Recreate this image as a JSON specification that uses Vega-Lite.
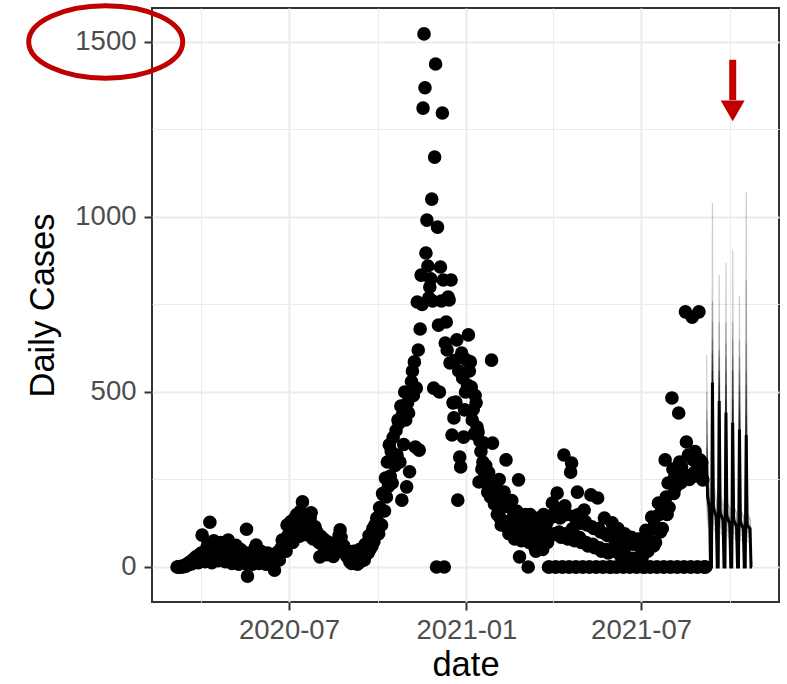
{
"$schema":"https://vega.github.io/schema/vega-lite/v6.json",
"width":627,"height":594,
"autosize":{"type":"none"},
"padding":{"left":152,"top":8,"right":8,"bottom":82},
"background":"white",
"config":{"font":"Liberation Sans","view":{"stroke":"#333333","strokeWidth":2}},
"datasets":{
"obs":[
{"d":"2020-03-07","y":0},{"d":"2020-03-08","y":0},{"d":"2020-03-09","y":0},{"d":"2020-03-10","y":1},{"d":"2020-03-11","y":0},{"d":"2020-03-12","y":2},{"d":"2020-03-13","y":0},{"d":"2020-03-14","y":3},{"d":"2020-03-15","y":5},{"d":"2020-03-16","y":2},{"d":"2020-03-17","y":8},{"d":"2020-03-18","y":6},{"d":"2020-03-19","y":12},{"d":"2020-03-20","y":10},{"d":"2020-03-21","y":15},{"d":"2020-03-22","y":9},{"d":"2020-03-23","y":20},{"d":"2020-03-24","y":14},{"d":"2020-03-25","y":25},{"d":"2020-03-26","y":18},{"d":"2020-03-27","y":30},{"d":"2020-03-28","y":22},{"d":"2020-03-29","y":12},{"d":"2020-03-30","y":35},{"d":"2020-03-31","y":28},
{"d":"2020-04-01","y":40},{"d":"2020-04-02","y":91},{"d":"2020-04-03","y":35},{"d":"2020-04-04","y":20},{"d":"2020-04-05","y":15},{"d":"2020-04-06","y":48},{"d":"2020-04-07","y":57},{"d":"2020-04-08","y":66},{"d":"2020-04-09","y":45},{"d":"2020-04-10","y":128},{"d":"2020-04-11","y":30},{"d":"2020-04-12","y":12},{"d":"2020-04-13","y":25},{"d":"2020-04-14","y":75},{"d":"2020-04-15","y":60},{"d":"2020-04-16","y":52},{"d":"2020-04-17","y":40},{"d":"2020-04-18","y":22},{"d":"2020-04-19","y":18},{"d":"2020-04-20","y":45},{"d":"2020-04-21","y":70},{"d":"2020-04-22","y":55},{"d":"2020-04-23","y":48},{"d":"2020-04-24","y":38},{"d":"2020-04-25","y":20},{"d":"2020-04-26","y":15},{"d":"2020-04-27","y":42},{"d":"2020-04-28","y":60},{"d":"2020-04-29","y":77},{"d":"2020-04-30","y":50},
{"d":"2020-05-01","y":35},{"d":"2020-05-02","y":20},{"d":"2020-05-03","y":10},{"d":"2020-05-04","y":45},{"d":"2020-05-05","y":55},{"d":"2020-05-06","y":40},{"d":"2020-05-07","y":62},{"d":"2020-05-08","y":30},{"d":"2020-05-09","y":18},{"d":"2020-05-10","y":8},{"d":"2020-05-11","y":38},{"d":"2020-05-12","y":50},{"d":"2020-05-13","y":45},{"d":"2020-05-14","y":33},{"d":"2020-05-15","y":28},{"d":"2020-05-16","y":15},{"d":"2020-05-17","y":10},{"d":"2020-05-18","y":108},{"d":"2020-05-19","y":-26},{"d":"2020-05-20","y":40},{"d":"2020-05-21","y":35},{"d":"2020-05-22","y":30},{"d":"2020-05-23","y":12},{"d":"2020-05-24","y":8},{"d":"2020-05-25","y":20},{"d":"2020-05-26","y":42},{"d":"2020-05-27","y":55},{"d":"2020-05-28","y":63},{"d":"2020-05-29","y":35},{"d":"2020-05-30","y":18},{"d":"2020-05-31","y":10},
{"d":"2020-06-01","y":30},{"d":"2020-06-02","y":45},{"d":"2020-06-03","y":38},{"d":"2020-06-04","y":25},{"d":"2020-06-05","y":20},{"d":"2020-06-06","y":12},{"d":"2020-06-07","y":8},{"d":"2020-06-08","y":35},{"d":"2020-06-09","y":40},{"d":"2020-06-10","y":28},{"d":"2020-06-11","y":22},{"d":"2020-06-12","y":30},{"d":"2020-06-13","y":15},{"d":"2020-06-14","y":5},{"d":"2020-06-15","y":18},{"d":"2020-06-16","y":-9},{"d":"2020-06-17","y":25},{"d":"2020-06-18","y":35},{"d":"2020-06-19","y":42},{"d":"2020-06-20","y":30},{"d":"2020-06-21","y":20},{"d":"2020-06-22","y":48},{"d":"2020-06-23","y":55},{"d":"2020-06-24","y":77},{"d":"2020-06-25","y":60},{"d":"2020-06-26","y":66},{"d":"2020-06-27","y":50},{"d":"2020-06-28","y":45},{"d":"2020-06-29","y":120},{"d":"2020-06-30","y":90},
{"d":"2020-07-01","y":95},{"d":"2020-07-02","y":110},{"d":"2020-07-03","y":130},{"d":"2020-07-04","y":85},{"d":"2020-07-05","y":70},{"d":"2020-07-06","y":120},{"d":"2020-07-07","y":140},{"d":"2020-07-08","y":105},{"d":"2020-07-09","y":150},{"d":"2020-07-10","y":125},{"d":"2020-07-11","y":98},{"d":"2020-07-12","y":88},{"d":"2020-07-13","y":160},{"d":"2020-07-14","y":145},{"d":"2020-07-15","y":186},{"d":"2020-07-16","y":130},{"d":"2020-07-17","y":118},{"d":"2020-07-18","y":100},{"d":"2020-07-19","y":92},{"d":"2020-07-20","y":135},{"d":"2020-07-21","y":128},{"d":"2020-07-22","y":112},{"d":"2020-07-23","y":140},{"d":"2020-07-24","y":155},{"d":"2020-07-25","y":95},{"d":"2020-07-26","y":80},{"d":"2020-07-27","y":108},{"d":"2020-07-28","y":115},{"d":"2020-07-29","y":90},{"d":"2020-07-30","y":100},{"d":"2020-07-31","y":85},
{"d":"2020-08-01","y":70},{"d":"2020-08-02","y":29},{"d":"2020-08-03","y":88},{"d":"2020-08-04","y":75},{"d":"2020-08-05","y":62},{"d":"2020-08-06","y":80},{"d":"2020-08-07","y":55},{"d":"2020-08-08","y":48},{"d":"2020-08-09","y":35},{"d":"2020-08-10","y":72},{"d":"2020-08-11","y":66},{"d":"2020-08-12","y":58},{"d":"2020-08-13","y":50},{"d":"2020-08-14","y":44},{"d":"2020-08-15","y":40},{"d":"2020-08-16","y":30},{"d":"2020-08-17","y":60},{"d":"2020-08-18","y":52},{"d":"2020-08-19","y":48},{"d":"2020-08-20","y":70},{"d":"2020-08-21","y":78},{"d":"2020-08-22","y":90},{"d":"2020-08-23","y":106},{"d":"2020-08-24","y":85},{"d":"2020-08-25","y":65},{"d":"2020-08-26","y":55},{"d":"2020-08-27","y":60},{"d":"2020-08-28","y":42},{"d":"2020-08-29","y":38},{"d":"2020-08-30","y":30},{"d":"2020-08-31","y":45},
{"d":"2020-09-01","y":35},{"d":"2020-09-02","y":15},{"d":"2020-09-03","y":40},{"d":"2020-09-04","y":10},{"d":"2020-09-05","y":25},{"d":"2020-09-06","y":45},{"d":"2020-09-07","y":12},{"d":"2020-09-08","y":40},{"d":"2020-09-09","y":22},{"d":"2020-09-10","y":8},{"d":"2020-09-11","y":35},{"d":"2020-09-12","y":50},{"d":"2020-09-13","y":15},{"d":"2020-09-14","y":45},{"d":"2020-09-15","y":25},{"d":"2020-09-16","y":49},{"d":"2020-09-17","y":20},{"d":"2020-09-18","y":65},{"d":"2020-09-19","y":35},{"d":"2020-09-20","y":60},{"d":"2020-09-21","y":40},{"d":"2020-09-22","y":90},{"d":"2020-09-23","y":50},{"d":"2020-09-24","y":77},{"d":"2020-09-25","y":60},{"d":"2020-09-26","y":110},{"d":"2020-09-27","y":72},{"d":"2020-09-28","y":120},{"d":"2020-09-29","y":90},{"d":"2020-09-30","y":140},
{"d":"2020-10-01","y":126},{"d":"2020-10-02","y":95},{"d":"2020-10-03","y":170},{"d":"2020-10-04","y":163},{"d":"2020-10-05","y":120},{"d":"2020-10-06","y":210},{"d":"2020-10-07","y":206},{"d":"2020-10-08","y":160},{"d":"2020-10-09","y":254},{"d":"2020-10-10","y":200},{"d":"2020-10-11","y":300},{"d":"2020-10-12","y":230},{"d":"2020-10-13","y":349},{"d":"2020-10-14","y":260},{"d":"2020-10-15","y":330},{"d":"2020-10-16","y":240},{"d":"2020-10-17","y":370},{"d":"2020-10-18","y":300},{"d":"2020-10-19","y":290},{"d":"2020-10-20","y":390},{"d":"2020-10-21","y":320},{"d":"2020-10-22","y":420},{"d":"2020-10-23","y":411},{"d":"2020-10-24","y":300},{"d":"2020-10-25","y":460},{"d":"2020-10-26","y":191},{"d":"2020-10-27","y":440},{"d":"2020-10-28","y":350},{"d":"2020-10-29","y":500},{"d":"2020-10-30","y":420},{"d":"2020-10-31","y":229},
{"d":"2020-11-01","y":469},{"d":"2020-11-02","y":440},{"d":"2020-11-03","y":272},{"d":"2020-11-04","y":500},{"d":"2020-11-05","y":530},{"d":"2020-11-06","y":560},{"d":"2020-11-07","y":490},{"d":"2020-11-08","y":586},{"d":"2020-11-09","y":343},{"d":"2020-11-10","y":511},{"d":"2020-11-11","y":757},{"d":"2020-11-12","y":620},{"d":"2020-11-13","y":334},{"d":"2020-11-14","y":680},{"d":"2020-11-15","y":834},{"d":"2020-11-16","y":750},{"d":"2020-11-17","y":1311},{"d":"2020-11-18","y":1523},{"d":"2020-11-19","y":1369},{"d":"2020-11-20","y":897},{"d":"2020-11-21","y":991},{"d":"2020-11-22","y":860},{"d":"2020-11-23","y":769},{"d":"2020-11-24","y":800},{"d":"2020-11-25","y":823},{"d":"2020-11-26","y":1051},{"d":"2020-11-27","y":760},{"d":"2020-11-28","y":511},{"d":"2020-11-29","y":1171},{"d":"2020-11-30","y":1437},
{"d":"2020-12-01","y":0},{"d":"2020-12-02","y":971},{"d":"2020-12-03","y":691},{"d":"2020-12-04","y":500},{"d":"2020-12-05","y":857},{"d":"2020-12-06","y":760},{"d":"2020-12-07","y":1297},{"d":"2020-12-08","y":820},{"d":"2020-12-09","y":0},{"d":"2020-12-10","y":640},{"d":"2020-12-11","y":700},{"d":"2020-12-12","y":620},{"d":"2020-12-13","y":771},{"d":"2020-12-14","y":763},{"d":"2020-12-15","y":583},{"d":"2020-12-16","y":820},{"d":"2020-12-17","y":377},{"d":"2020-12-18","y":469},{"d":"2020-12-19","y":426},{"d":"2020-12-20","y":590},{"d":"2020-12-21","y":471},{"d":"2020-12-22","y":649},{"d":"2020-12-23","y":191},{"d":"2020-12-24","y":560},{"d":"2020-12-25","y":314},{"d":"2020-12-26","y":286},{"d":"2020-12-27","y":611},{"d":"2020-12-28","y":540},{"d":"2020-12-29","y":371},{"d":"2020-12-30","y":449},{"d":"2020-12-31","y":500},
{"d":"2021-01-01","y":591},{"d":"2021-01-02","y":520},{"d":"2021-01-03","y":663},{"d":"2021-01-04","y":560},{"d":"2021-01-05","y":586},{"d":"2021-01-06","y":514},{"d":"2021-01-07","y":420},{"d":"2021-01-08","y":450},{"d":"2021-01-09","y":380},{"d":"2021-01-10","y":490},{"d":"2021-01-11","y":469},{"d":"2021-01-12","y":400},{"d":"2021-01-13","y":386},{"d":"2021-01-14","y":243},{"d":"2021-01-15","y":360},{"d":"2021-01-16","y":330},{"d":"2021-01-17","y":280},{"d":"2021-01-18","y":300},{"d":"2021-01-19","y":354},{"d":"2021-01-20","y":260},{"d":"2021-01-21","y":290},{"d":"2021-01-22","y":240},{"d":"2021-01-23","y":214},{"d":"2021-01-24","y":270},{"d":"2021-01-25","y":230},{"d":"2021-01-26","y":200},{"d":"2021-01-27","y":591},{"d":"2021-01-28","y":354},{"d":"2021-01-29","y":210},{"d":"2021-01-30","y":180},{"d":"2021-01-31","y":230},
{"d":"2021-02-01","y":240},{"d":"2021-02-02","y":150},{"d":"2021-02-03","y":190},{"d":"2021-02-04","y":250},{"d":"2021-02-05","y":140},{"d":"2021-02-06","y":120},{"d":"2021-02-07","y":170},{"d":"2021-02-08","y":200},{"d":"2021-02-09","y":214},{"d":"2021-02-10","y":130},{"d":"2021-02-11","y":306},{"d":"2021-02-12","y":180},{"d":"2021-02-13","y":110},{"d":"2021-02-14","y":95},{"d":"2021-02-15","y":170},{"d":"2021-02-16","y":120},{"d":"2021-02-17","y":190},{"d":"2021-02-18","y":140},{"d":"2021-02-19","y":100},{"d":"2021-02-20","y":80},{"d":"2021-02-21","y":120},{"d":"2021-02-22","y":160},{"d":"2021-02-23","y":105},{"d":"2021-02-24","y":249},{"d":"2021-02-25","y":29},{"d":"2021-02-26","y":130},{"d":"2021-02-27","y":75},{"d":"2021-02-28","y":100},
{"d":"2021-03-01","y":140},{"d":"2021-03-02","y":90},{"d":"2021-03-03","y":150},{"d":"2021-03-04","y":80},{"d":"2021-03-05","y":120},{"d":"2021-03-06","y":0},{"d":"2021-03-07","y":70},{"d":"2021-03-08","y":150},{"d":"2021-03-09","y":95},{"d":"2021-03-10","y":110},{"d":"2021-03-11","y":135},{"d":"2021-03-12","y":65},{"d":"2021-03-13","y":55},{"d":"2021-03-14","y":45},{"d":"2021-03-15","y":130},{"d":"2021-03-16","y":80},{"d":"2021-03-17","y":140},{"d":"2021-03-18","y":70},{"d":"2021-03-19","y":115},{"d":"2021-03-20","y":60},{"d":"2021-03-21","y":50},{"d":"2021-03-22","y":150},{"d":"2021-03-23","y":85},{"d":"2021-03-24","y":105},{"d":"2021-03-25","y":125},{"d":"2021-03-26","y":70},{"d":"2021-03-27","y":0},{"d":"2021-03-28","y":0},{"d":"2021-03-29","y":140},{"d":"2021-03-30","y":90},{"d":"2021-03-31","y":183},
{"d":"2021-04-01","y":150},{"d":"2021-04-02","y":95},{"d":"2021-04-03","y":0},{"d":"2021-04-04","y":0},{"d":"2021-04-05","y":211},{"d":"2021-04-06","y":165},{"d":"2021-04-07","y":100},{"d":"2021-04-08","y":140},{"d":"2021-04-09","y":85},{"d":"2021-04-10","y":0},{"d":"2021-04-11","y":0},{"d":"2021-04-12","y":320},{"d":"2021-04-13","y":175},{"d":"2021-04-14","y":95},{"d":"2021-04-15","y":150},{"d":"2021-04-16","y":80},{"d":"2021-04-17","y":0},{"d":"2021-04-18","y":0},{"d":"2021-04-19","y":271},{"d":"2021-04-20","y":297},{"d":"2021-04-21","y":110},{"d":"2021-04-22","y":145},{"d":"2021-04-23","y":75},{"d":"2021-04-24","y":0},{"d":"2021-04-25","y":0},{"d":"2021-04-26","y":214},{"d":"2021-04-27","y":150},{"d":"2021-04-28","y":85},{"d":"2021-04-29","y":125},{"d":"2021-04-30","y":70},
{"d":"2021-05-01","y":0},{"d":"2021-05-02","y":0},{"d":"2021-05-03","y":163},{"d":"2021-05-04","y":130},{"d":"2021-05-05","y":70},{"d":"2021-05-06","y":120},{"d":"2021-05-07","y":60},{"d":"2021-05-08","y":0},{"d":"2021-05-09","y":0},{"d":"2021-05-10","y":206},{"d":"2021-05-11","y":115},{"d":"2021-05-12","y":65},{"d":"2021-05-13","y":110},{"d":"2021-05-14","y":55},{"d":"2021-05-15","y":0},{"d":"2021-05-16","y":0},{"d":"2021-05-17","y":197},{"d":"2021-05-18","y":110},{"d":"2021-05-19","y":55},{"d":"2021-05-20","y":100},{"d":"2021-05-21","y":45},{"d":"2021-05-22","y":0},{"d":"2021-05-23","y":0},{"d":"2021-05-24","y":140},{"d":"2021-05-25","y":95},{"d":"2021-05-26","y":50},{"d":"2021-05-27","y":90},{"d":"2021-05-28","y":40},{"d":"2021-05-29","y":0},{"d":"2021-05-30","y":0},{"d":"2021-05-31","y":0},
{"d":"2021-06-01","y":126},{"d":"2021-06-02","y":90},{"d":"2021-06-03","y":45},{"d":"2021-06-04","y":75},{"d":"2021-06-05","y":0},{"d":"2021-06-06","y":0},{"d":"2021-06-07","y":110},{"d":"2021-06-08","y":85},{"d":"2021-06-09","y":35},{"d":"2021-06-10","y":70},{"d":"2021-06-11","y":30},{"d":"2021-06-12","y":0},{"d":"2021-06-13","y":0},{"d":"2021-06-14","y":95},{"d":"2021-06-15","y":70},{"d":"2021-06-16","y":30},{"d":"2021-06-17","y":65},{"d":"2021-06-18","y":25},{"d":"2021-06-19","y":0},{"d":"2021-06-20","y":0},{"d":"2021-06-21","y":85},{"d":"2021-06-22","y":65},{"d":"2021-06-23","y":25},{"d":"2021-06-24","y":70},{"d":"2021-06-25","y":20},{"d":"2021-06-26","y":0},{"d":"2021-06-27","y":0},{"d":"2021-06-28","y":80},{"d":"2021-06-29","y":60},{"d":"2021-06-30","y":30},
{"d":"2021-07-01","y":75},{"d":"2021-07-02","y":25},{"d":"2021-07-03","y":0},{"d":"2021-07-04","y":0},{"d":"2021-07-05","y":0},{"d":"2021-07-06","y":105},{"d":"2021-07-07","y":90},{"d":"2021-07-08","y":45},{"d":"2021-07-09","y":80},{"d":"2021-07-10","y":0},{"d":"2021-07-11","y":0},{"d":"2021-07-12","y":143},{"d":"2021-07-13","y":110},{"d":"2021-07-14","y":60},{"d":"2021-07-15","y":120},{"d":"2021-07-16","y":70},{"d":"2021-07-17","y":0},{"d":"2021-07-18","y":0},{"d":"2021-07-19","y":183},{"d":"2021-07-20","y":150},{"d":"2021-07-21","y":100},{"d":"2021-07-22","y":175},{"d":"2021-07-23","y":110},{"d":"2021-07-24","y":0},{"d":"2021-07-25","y":0},{"d":"2021-07-26","y":306},{"d":"2021-07-27","y":200},{"d":"2021-07-28","y":150},{"d":"2021-07-29","y":240},{"d":"2021-07-30","y":170},{"d":"2021-07-31","y":0},
{"d":"2021-08-01","y":0},{"d":"2021-08-02","y":483},{"d":"2021-08-03","y":280},{"d":"2021-08-04","y":210},{"d":"2021-08-05","y":260},{"d":"2021-08-06","y":229},{"d":"2021-08-07","y":0},{"d":"2021-08-08","y":0},{"d":"2021-08-09","y":440},{"d":"2021-08-10","y":300},{"d":"2021-08-11","y":240},{"d":"2021-08-12","y":286},{"d":"2021-08-13","y":250},{"d":"2021-08-14","y":0},{"d":"2021-08-15","y":0},{"d":"2021-08-16","y":729},{"d":"2021-08-17","y":357},{"d":"2021-08-18","y":260},{"d":"2021-08-19","y":320},{"d":"2021-08-20","y":250},{"d":"2021-08-21","y":0},{"d":"2021-08-22","y":0},{"d":"2021-08-23","y":714},{"d":"2021-08-24","y":306},{"d":"2021-08-25","y":270},{"d":"2021-08-26","y":330},{"d":"2021-08-27","y":260},{"d":"2021-08-28","y":0},{"d":"2021-08-29","y":0},{"d":"2021-08-30","y":729},{"d":"2021-08-31","y":306},
{"d":"2021-09-01","y":275},{"d":"2021-09-02","y":300},{"d":"2021-09-03","y":249},{"d":"2021-09-04","y":0},{"d":"2021-09-05","y":0},{"d":"2021-09-06","y":0}
],
"fc":[
{"d":"2021-09-07","k":"m","y":300},{"d":"2021-09-08","k":"m","y":200},{"d":"2021-09-09","k":"m","y":185},{"d":"2021-09-10","k":"m","y":172},{"d":"2021-09-11","k":"m","y":0},{"d":"2021-09-12","k":"m","y":0},{"d":"2021-09-13","k":"m","y":527},{"d":"2021-09-14","k":"m","y":170},{"d":"2021-09-15","k":"m","y":160},{"d":"2021-09-16","k":"m","y":152},{"d":"2021-09-17","k":"m","y":145},{"d":"2021-09-18","k":"m","y":0},{"d":"2021-09-19","k":"m","y":0},{"d":"2021-09-20","k":"m","y":474},{"d":"2021-09-21","k":"m","y":155},{"d":"2021-09-22","k":"m","y":148},{"d":"2021-09-23","k":"m","y":140},{"d":"2021-09-24","k":"m","y":135},{"d":"2021-09-25","k":"m","y":0},{"d":"2021-09-26","k":"m","y":0},{"d":"2021-09-27","k":"m","y":441},{"d":"2021-09-28","k":"m","y":145},{"d":"2021-09-29","k":"m","y":138},{"d":"2021-09-30","k":"m","y":130},{"d":"2021-10-01","k":"m","y":125},{"d":"2021-10-02","k":"m","y":0},{"d":"2021-10-03","k":"m","y":0},{"d":"2021-10-04","k":"m","y":412},{"d":"2021-10-05","k":"m","y":135},{"d":"2021-10-06","k":"m","y":128},{"d":"2021-10-07","k":"m","y":122},{"d":"2021-10-08","k":"m","y":118},{"d":"2021-10-09","k":"m","y":0},{"d":"2021-10-10","k":"m","y":0},{"d":"2021-10-11","k":"m","y":393},{"d":"2021-10-12","k":"m","y":128},{"d":"2021-10-13","k":"m","y":122},{"d":"2021-10-14","k":"m","y":116},{"d":"2021-10-15","k":"m","y":112},{"d":"2021-10-16","k":"m","y":0},{"d":"2021-10-17","k":"m","y":0},{"d":"2021-10-18","k":"m","y":377},{"d":"2021-10-19","k":"m","y":120},{"d":"2021-10-20","k":"m","y":116},{"d":"2021-10-21","k":"m","y":112},{"d":"2021-10-22","k":"m","y":110},{"d":"2021-10-23","k":"m","y":0},{"d":"2021-10-24","k":"m","y":0},
{"d":"2021-09-07","k":"a","y":420},{"d":"2021-09-08","k":"a","y":215},{"d":"2021-09-09","k":"a","y":205},{"d":"2021-09-10","k":"a","y":195},{"d":"2021-09-11","k":"a","y":0},{"d":"2021-09-12","k":"a","y":0},{"d":"2021-09-13","k":"a","y":1040},{"d":"2021-09-14","k":"a","y":190},{"d":"2021-09-15","k":"a","y":180},{"d":"2021-09-16","k":"a","y":172},{"d":"2021-09-17","k":"a","y":165},{"d":"2021-09-18","k":"a","y":0},{"d":"2021-09-19","k":"a","y":0},{"d":"2021-09-20","k":"a","y":560},{"d":"2021-09-21","k":"a","y":175},{"d":"2021-09-22","k":"a","y":168},{"d":"2021-09-23","k":"a","y":160},{"d":"2021-09-24","k":"a","y":155},{"d":"2021-09-25","k":"a","y":0},{"d":"2021-09-26","k":"a","y":0},{"d":"2021-09-27","k":"a","y":520},{"d":"2021-09-28","k":"a","y":160},{"d":"2021-09-29","k":"a","y":152},{"d":"2021-09-30","k":"a","y":148},{"d":"2021-10-01","k":"a","y":140},{"d":"2021-10-02","k":"a","y":0},{"d":"2021-10-03","k":"a","y":0},{"d":"2021-10-04","k":"a","y":480},{"d":"2021-10-05","k":"a","y":150},{"d":"2021-10-06","k":"a","y":142},{"d":"2021-10-07","k":"a","y":138},{"d":"2021-10-08","k":"a","y":132},{"d":"2021-10-09","k":"a","y":0},{"d":"2021-10-10","k":"a","y":0},{"d":"2021-10-11","k":"a","y":450},{"d":"2021-10-12","k":"a","y":140},{"d":"2021-10-13","k":"a","y":135},{"d":"2021-10-14","k":"a","y":128},{"d":"2021-10-15","k":"a","y":124},{"d":"2021-10-16","k":"a","y":0},{"d":"2021-10-17","k":"a","y":0},{"d":"2021-10-18","k":"a","y":430},{"d":"2021-10-19","k":"a","y":130},{"d":"2021-10-20","k":"a","y":126},{"d":"2021-10-21","k":"a","y":120},{"d":"2021-10-22","k":"a","y":118},{"d":"2021-10-23","k":"a","y":0},{"d":"2021-10-24","k":"a","y":0},
{"d":"2021-09-07","k":"b","y":606},{"d":"2021-09-08","k":"b","y":240},{"d":"2021-09-09","k":"b","y":228},{"d":"2021-09-10","k":"b","y":220},{"d":"2021-09-11","k":"b","y":0},{"d":"2021-09-12","k":"b","y":0},{"d":"2021-09-13","k":"b","y":610},{"d":"2021-09-14","k":"b","y":215},{"d":"2021-09-15","k":"b","y":205},{"d":"2021-09-16","k":"b","y":198},{"d":"2021-09-17","k":"b","y":190},{"d":"2021-09-18","k":"b","y":0},{"d":"2021-09-19","k":"b","y":0},{"d":"2021-09-20","k":"b","y":834},{"d":"2021-09-21","k":"b","y":200},{"d":"2021-09-22","k":"b","y":190},{"d":"2021-09-23","k":"b","y":182},{"d":"2021-09-24","k":"b","y":175},{"d":"2021-09-25","k":"b","y":0},{"d":"2021-09-26","k":"b","y":0},{"d":"2021-09-27","k":"b","y":600},{"d":"2021-09-28","k":"b","y":185},{"d":"2021-09-29","k":"b","y":178},{"d":"2021-09-30","k":"b","y":170},{"d":"2021-10-01","k":"b","y":165},{"d":"2021-10-02","k":"b","y":0},{"d":"2021-10-03","k":"b","y":0},{"d":"2021-10-04","k":"b","y":560},{"d":"2021-10-05","k":"b","y":172},{"d":"2021-10-06","k":"b","y":165},{"d":"2021-10-07","k":"b","y":160},{"d":"2021-10-08","k":"b","y":152},{"d":"2021-10-09","k":"b","y":0},{"d":"2021-10-10","k":"b","y":0},{"d":"2021-10-11","k":"b","y":500},{"d":"2021-10-12","k":"b","y":160},{"d":"2021-10-13","k":"b","y":155},{"d":"2021-10-14","k":"b","y":150},{"d":"2021-10-15","k":"b","y":145},{"d":"2021-10-16","k":"b","y":0},{"d":"2021-10-17","k":"b","y":0},{"d":"2021-10-18","k":"b","y":480},{"d":"2021-10-19","k":"b","y":150},{"d":"2021-10-20","k":"b","y":145},{"d":"2021-10-21","k":"b","y":140},{"d":"2021-10-22","k":"b","y":135},{"d":"2021-10-23","k":"b","y":0},{"d":"2021-10-24","k":"b","y":0},
{"d":"2021-09-07","k":"c","y":250},{"d":"2021-09-08","k":"c","y":160},{"d":"2021-09-09","k":"c","y":152},{"d":"2021-09-10","k":"c","y":145},{"d":"2021-09-11","k":"c","y":0},{"d":"2021-09-12","k":"c","y":0},{"d":"2021-09-13","k":"c","y":700},{"d":"2021-09-14","k":"c","y":150},{"d":"2021-09-15","k":"c","y":142},{"d":"2021-09-16","k":"c","y":136},{"d":"2021-09-17","k":"c","y":130},{"d":"2021-09-18","k":"c","y":0},{"d":"2021-09-19","k":"c","y":0},{"d":"2021-09-20","k":"c","y":620},{"d":"2021-09-21","k":"c","y":138},{"d":"2021-09-22","k":"c","y":130},{"d":"2021-09-23","k":"c","y":125},{"d":"2021-09-24","k":"c","y":120},{"d":"2021-09-25","k":"c","y":0},{"d":"2021-09-26","k":"c","y":0},{"d":"2021-09-27","k":"c","y":869},{"d":"2021-09-28","k":"c","y":128},{"d":"2021-09-29","k":"c","y":122},{"d":"2021-09-30","k":"c","y":118},{"d":"2021-10-01","k":"c","y":112},{"d":"2021-10-02","k":"c","y":0},{"d":"2021-10-03","k":"c","y":0},{"d":"2021-10-04","k":"c","y":650},{"d":"2021-10-05","k":"c","y":120},{"d":"2021-10-06","k":"c","y":115},{"d":"2021-10-07","k":"c","y":110},{"d":"2021-10-08","k":"c","y":106},{"d":"2021-10-09","k":"c","y":0},{"d":"2021-10-10","k":"c","y":0},{"d":"2021-10-11","k":"c","y":560},{"d":"2021-10-12","k":"c","y":112},{"d":"2021-10-13","k":"c","y":108},{"d":"2021-10-14","k":"c","y":104},{"d":"2021-10-15","k":"c","y":100},{"d":"2021-10-16","k":"c","y":0},{"d":"2021-10-17","k":"c","y":0},{"d":"2021-10-18","k":"c","y":520},{"d":"2021-10-19","k":"c","y":105},{"d":"2021-10-20","k":"c","y":102},{"d":"2021-10-21","k":"c","y":98},{"d":"2021-10-22","k":"c","y":95},{"d":"2021-10-23","k":"c","y":0},{"d":"2021-10-24","k":"c","y":0},
{"d":"2021-09-07","k":"d","y":380},{"d":"2021-09-08","k":"d","y":198},{"d":"2021-09-09","k":"d","y":188},{"d":"2021-09-10","k":"d","y":180},{"d":"2021-09-11","k":"d","y":0},{"d":"2021-09-12","k":"d","y":0},{"d":"2021-09-13","k":"d","y":580},{"d":"2021-09-14","k":"d","y":175},{"d":"2021-09-15","k":"d","y":168},{"d":"2021-09-16","k":"d","y":160},{"d":"2021-09-17","k":"d","y":155},{"d":"2021-09-18","k":"d","y":0},{"d":"2021-09-19","k":"d","y":0},{"d":"2021-09-20","k":"d","y":700},{"d":"2021-09-21","k":"d","y":165},{"d":"2021-09-22","k":"d","y":158},{"d":"2021-09-23","k":"d","y":150},{"d":"2021-09-24","k":"d","y":145},{"d":"2021-09-25","k":"d","y":0},{"d":"2021-09-26","k":"d","y":0},{"d":"2021-09-27","k":"d","y":640},{"d":"2021-09-28","k":"d","y":150},{"d":"2021-09-29","k":"d","y":145},{"d":"2021-09-30","k":"d","y":140},{"d":"2021-10-01","k":"d","y":135},{"d":"2021-10-02","k":"d","y":0},{"d":"2021-10-03","k":"d","y":0},{"d":"2021-10-04","k":"d","y":906},{"d":"2021-10-05","k":"d","y":142},{"d":"2021-10-06","k":"d","y":136},{"d":"2021-10-07","k":"d","y":130},{"d":"2021-10-08","k":"d","y":126},{"d":"2021-10-09","k":"d","y":0},{"d":"2021-10-10","k":"d","y":0},{"d":"2021-10-11","k":"d","y":600},{"d":"2021-10-12","k":"d","y":132},{"d":"2021-10-13","k":"d","y":128},{"d":"2021-10-14","k":"d","y":122},{"d":"2021-10-15","k":"d","y":118},{"d":"2021-10-16","k":"d","y":0},{"d":"2021-10-17","k":"d","y":0},{"d":"2021-10-18","k":"d","y":560},{"d":"2021-10-19","k":"d","y":125},{"d":"2021-10-20","k":"d","y":120},{"d":"2021-10-21","k":"d","y":116},{"d":"2021-10-22","k":"d","y":112},{"d":"2021-10-23","k":"d","y":0},{"d":"2021-10-24","k":"d","y":0},
{"d":"2021-09-07","k":"e","y":340},{"d":"2021-09-08","k":"e","y":180},{"d":"2021-09-09","k":"e","y":170},{"d":"2021-09-10","k":"e","y":162},{"d":"2021-09-11","k":"e","y":0},{"d":"2021-09-12","k":"e","y":0},{"d":"2021-09-13","k":"e","y":650},{"d":"2021-09-14","k":"e","y":165},{"d":"2021-09-15","k":"e","y":158},{"d":"2021-09-16","k":"e","y":150},{"d":"2021-09-17","k":"e","y":145},{"d":"2021-09-18","k":"e","y":0},{"d":"2021-09-19","k":"e","y":0},{"d":"2021-09-20","k":"e","y":540},{"d":"2021-09-21","k":"e","y":150},{"d":"2021-09-22","k":"e","y":144},{"d":"2021-09-23","k":"e","y":138},{"d":"2021-09-24","k":"e","y":132},{"d":"2021-09-25","k":"e","y":0},{"d":"2021-09-26","k":"e","y":0},{"d":"2021-09-27","k":"e","y":560},{"d":"2021-09-28","k":"e","y":140},{"d":"2021-09-29","k":"e","y":134},{"d":"2021-09-30","k":"e","y":128},{"d":"2021-10-01","k":"e","y":124},{"d":"2021-10-02","k":"e","y":0},{"d":"2021-10-03","k":"e","y":0},{"d":"2021-10-04","k":"e","y":700},{"d":"2021-10-05","k":"e","y":130},{"d":"2021-10-06","k":"e","y":125},{"d":"2021-10-07","k":"e","y":120},{"d":"2021-10-08","k":"e","y":116},{"d":"2021-10-09","k":"e","y":0},{"d":"2021-10-10","k":"e","y":0},{"d":"2021-10-11","k":"e","y":774},{"d":"2021-10-12","k":"e","y":122},{"d":"2021-10-13","k":"e","y":118},{"d":"2021-10-14","k":"e","y":114},{"d":"2021-10-15","k":"e","y":110},{"d":"2021-10-16","k":"e","y":0},{"d":"2021-10-17","k":"e","y":0},{"d":"2021-10-18","k":"e","y":640},{"d":"2021-10-19","k":"e","y":115},{"d":"2021-10-20","k":"e","y":112},{"d":"2021-10-21","k":"e","y":108},{"d":"2021-10-22","k":"e","y":105},{"d":"2021-10-23","k":"e","y":0},{"d":"2021-10-24","k":"e","y":0},
{"d":"2021-09-07","k":"f","y":220},{"d":"2021-09-08","k":"f","y":142},{"d":"2021-09-09","k":"f","y":135},{"d":"2021-09-10","k":"f","y":128},{"d":"2021-09-11","k":"f","y":0},{"d":"2021-09-12","k":"f","y":0},{"d":"2021-09-13","k":"f","y":560},{"d":"2021-09-14","k":"f","y":130},{"d":"2021-09-15","k":"f","y":125},{"d":"2021-09-16","k":"f","y":118},{"d":"2021-09-17","k":"f","y":112},{"d":"2021-09-18","k":"f","y":0},{"d":"2021-09-19","k":"f","y":0},{"d":"2021-09-20","k":"f","y":520},{"d":"2021-09-21","k":"f","y":118},{"d":"2021-09-22","k":"f","y":112},{"d":"2021-09-23","k":"f","y":108},{"d":"2021-09-24","k":"f","y":104},{"d":"2021-09-25","k":"f","y":0},{"d":"2021-09-26","k":"f","y":0},{"d":"2021-09-27","k":"f","y":480},{"d":"2021-09-28","k":"f","y":108},{"d":"2021-09-29","k":"f","y":104},{"d":"2021-09-30","k":"f","y":100},{"d":"2021-10-01","k":"f","y":96},{"d":"2021-10-02","k":"f","y":0},{"d":"2021-10-03","k":"f","y":0},{"d":"2021-10-04","k":"f","y":600},{"d":"2021-10-05","k":"f","y":100},{"d":"2021-10-06","k":"f","y":96},{"d":"2021-10-07","k":"f","y":92},{"d":"2021-10-08","k":"f","y":90},{"d":"2021-10-09","k":"f","y":0},{"d":"2021-10-10","k":"f","y":0},{"d":"2021-10-11","k":"f","y":520},{"d":"2021-10-12","k":"f","y":95},{"d":"2021-10-13","k":"f","y":92},{"d":"2021-10-14","k":"f","y":88},{"d":"2021-10-15","k":"f","y":85},{"d":"2021-10-16","k":"f","y":0},{"d":"2021-10-17","k":"f","y":0},{"d":"2021-10-18","k":"f","y":1071},{"d":"2021-10-19","k":"f","y":90},{"d":"2021-10-20","k":"f","y":88},{"d":"2021-10-21","k":"f","y":85},{"d":"2021-10-22","k":"f","y":82},{"d":"2021-10-23","k":"f","y":0},{"d":"2021-10-24","k":"f","y":0},
{"d":"2021-09-07","k":"g","y":500},{"d":"2021-09-08","k":"g","y":265},{"d":"2021-09-09","k":"g","y":250},{"d":"2021-09-10","k":"g","y":240},{"d":"2021-09-11","k":"g","y":0},{"d":"2021-09-12","k":"g","y":0},{"d":"2021-09-13","k":"g","y":760},{"d":"2021-09-14","k":"g","y":235},{"d":"2021-09-15","k":"g","y":225},{"d":"2021-09-16","k":"g","y":215},{"d":"2021-09-17","k":"g","y":205},{"d":"2021-09-18","k":"g","y":0},{"d":"2021-09-19","k":"g","y":0},{"d":"2021-09-20","k":"g","y":600},{"d":"2021-09-21","k":"g","y":210},{"d":"2021-09-22","k":"g","y":200},{"d":"2021-09-23","k":"g","y":192},{"d":"2021-09-24","k":"g","y":185},{"d":"2021-09-25","k":"g","y":0},{"d":"2021-09-26","k":"g","y":0},{"d":"2021-09-27","k":"g","y":700},{"d":"2021-09-28","k":"g","y":190},{"d":"2021-09-29","k":"g","y":182},{"d":"2021-09-30","k":"g","y":175},{"d":"2021-10-01","k":"g","y":168},{"d":"2021-10-02","k":"g","y":0},{"d":"2021-10-03","k":"g","y":0},{"d":"2021-10-04","k":"g","y":560},{"d":"2021-10-05","k":"g","y":175},{"d":"2021-10-06","k":"g","y":168},{"d":"2021-10-07","k":"g","y":162},{"d":"2021-10-08","k":"g","y":155},{"d":"2021-10-09","k":"g","y":0},{"d":"2021-10-10","k":"g","y":0},{"d":"2021-10-11","k":"g","y":650},{"d":"2021-10-12","k":"g","y":165},{"d":"2021-10-13","k":"g","y":158},{"d":"2021-10-14","k":"g","y":152},{"d":"2021-10-15","k":"g","y":146},{"d":"2021-10-16","k":"g","y":0},{"d":"2021-10-17","k":"g","y":0},{"d":"2021-10-18","k":"g","y":820},{"d":"2021-10-19","k":"g","y":155},{"d":"2021-10-20","k":"g","y":150},{"d":"2021-10-21","k":"g","y":145},{"d":"2021-10-22","k":"g","y":140},{"d":"2021-10-23","k":"g","y":0},{"d":"2021-10-24","k":"g","y":0},
{"d":"2021-09-07","k":"h","y":200},{"d":"2021-09-08","k":"h","y":122},{"d":"2021-09-09","k":"h","y":115},{"d":"2021-09-10","k":"h","y":110},{"d":"2021-09-11","k":"h","y":0},{"d":"2021-09-12","k":"h","y":0},{"d":"2021-09-13","k":"h","y":460},{"d":"2021-09-14","k":"h","y":112},{"d":"2021-09-15","k":"h","y":106},{"d":"2021-09-16","k":"h","y":100},{"d":"2021-09-17","k":"h","y":96},{"d":"2021-09-18","k":"h","y":0},{"d":"2021-09-19","k":"h","y":0},{"d":"2021-09-20","k":"h","y":420},{"d":"2021-09-21","k":"h","y":100},{"d":"2021-09-22","k":"h","y":96},{"d":"2021-09-23","k":"h","y":92},{"d":"2021-09-24","k":"h","y":88},{"d":"2021-09-25","k":"h","y":0},{"d":"2021-09-26","k":"h","y":0},{"d":"2021-09-27","k":"h","y":400},{"d":"2021-09-28","k":"h","y":92},{"d":"2021-09-29","k":"h","y":88},{"d":"2021-09-30","k":"h","y":85},{"d":"2021-10-01","k":"h","y":82},{"d":"2021-10-02","k":"h","y":0},{"d":"2021-10-03","k":"h","y":0},{"d":"2021-10-04","k":"h","y":380},{"d":"2021-10-05","k":"h","y":85},{"d":"2021-10-06","k":"h","y":82},{"d":"2021-10-07","k":"h","y":80},{"d":"2021-10-08","k":"h","y":78},{"d":"2021-10-09","k":"h","y":0},{"d":"2021-10-10","k":"h","y":0},{"d":"2021-10-11","k":"h","y":360},{"d":"2021-10-12","k":"h","y":80},{"d":"2021-10-13","k":"h","y":78},{"d":"2021-10-14","k":"h","y":75},{"d":"2021-10-15","k":"h","y":72},{"d":"2021-10-16","k":"h","y":0},{"d":"2021-10-17","k":"h","y":0},{"d":"2021-10-18","k":"h","y":340},{"d":"2021-10-19","k":"h","y":75},{"d":"2021-10-20","k":"h","y":72},{"d":"2021-10-21","k":"h","y":70},{"d":"2021-10-22","k":"h","y":68},{"d":"2021-10-23","k":"h","y":0},{"d":"2021-10-24","k":"h","y":0},
{"d":"2021-09-07","k":"i","y":350},{"d":"2021-09-08","k":"i","y":200},{"d":"2021-09-09","k":"i","y":160},{"d":"2021-09-10","k":"i","y":120},{"d":"2021-09-11","k":"i","y":80},{"d":"2021-09-12","k":"i","y":40},{"d":"2021-09-13","k":"i","y":480},{"d":"2021-09-14","k":"i","y":190},{"d":"2021-09-15","k":"i","y":150},{"d":"2021-09-16","k":"i","y":115},{"d":"2021-09-17","k":"i","y":80},{"d":"2021-09-18","k":"i","y":45},{"d":"2021-09-19","k":"i","y":15},{"d":"2021-09-20","k":"i","y":450},{"d":"2021-09-21","k":"i","y":180},{"d":"2021-09-22","k":"i","y":140},{"d":"2021-09-23","k":"i","y":105},{"d":"2021-09-24","k":"i","y":75},{"d":"2021-09-25","k":"i","y":40},{"d":"2021-09-26","k":"i","y":12},{"d":"2021-09-27","k":"i","y":430},{"d":"2021-09-28","k":"i","y":170},{"d":"2021-09-29","k":"i","y":135},{"d":"2021-09-30","k":"i","y":100},{"d":"2021-10-01","k":"i","y":70},{"d":"2021-10-02","k":"i","y":38},{"d":"2021-10-03","k":"i","y":10},{"d":"2021-10-04","k":"i","y":400},{"d":"2021-10-05","k":"i","y":160},{"d":"2021-10-06","k":"i","y":125},{"d":"2021-10-07","k":"i","y":95},{"d":"2021-10-08","k":"i","y":65},{"d":"2021-10-09","k":"i","y":35},{"d":"2021-10-10","k":"i","y":10},{"d":"2021-10-11","k":"i","y":380},{"d":"2021-10-12","k":"i","y":150},{"d":"2021-10-13","k":"i","y":120},{"d":"2021-10-14","k":"i","y":90},{"d":"2021-10-15","k":"i","y":60},{"d":"2021-10-16","k":"i","y":30},{"d":"2021-10-17","k":"i","y":8},{"d":"2021-10-18","k":"i","y":370},{"d":"2021-10-19","k":"i","y":140},{"d":"2021-10-20","k":"i","y":110},{"d":"2021-10-21","k":"i","y":85},{"d":"2021-10-22","k":"i","y":55},{"d":"2021-10-23","k":"i","y":28},{"d":"2021-10-24","k":"i","y":8},
{"d":"2021-09-07","k":"j","y":280},{"d":"2021-09-08","k":"j","y":170},{"d":"2021-09-09","k":"j","y":160},{"d":"2021-09-10","k":"j","y":150},{"d":"2021-09-11","k":"j","y":120},{"d":"2021-09-12","k":"j","y":110},{"d":"2021-09-13","k":"j","y":560},{"d":"2021-09-14","k":"j","y":160},{"d":"2021-09-15","k":"j","y":150},{"d":"2021-09-16","k":"j","y":142},{"d":"2021-09-17","k":"j","y":115},{"d":"2021-09-18","k":"j","y":105},{"d":"2021-09-19","k":"j","y":100},{"d":"2021-09-20","k":"j","y":500},{"d":"2021-09-21","k":"j","y":150},{"d":"2021-09-22","k":"j","y":140},{"d":"2021-09-23","k":"j","y":132},{"d":"2021-09-24","k":"j","y":108},{"d":"2021-09-25","k":"j","y":100},{"d":"2021-09-26","k":"j","y":95},{"d":"2021-09-27","k":"j","y":480},{"d":"2021-09-28","k":"j","y":140},{"d":"2021-09-29","k":"j","y":132},{"d":"2021-09-30","k":"j","y":125},{"d":"2021-10-01","k":"j","y":100},{"d":"2021-10-02","k":"j","y":92},{"d":"2021-10-03","k":"j","y":88},{"d":"2021-10-04","k":"j","y":450},{"d":"2021-10-05","k":"j","y":132},{"d":"2021-10-06","k":"j","y":125},{"d":"2021-10-07","k":"j","y":118},{"d":"2021-10-08","k":"j","y":95},{"d":"2021-10-09","k":"j","y":88},{"d":"2021-10-10","k":"j","y":85},{"d":"2021-10-11","k":"j","y":420},{"d":"2021-10-12","k":"j","y":125},{"d":"2021-10-13","k":"j","y":118},{"d":"2021-10-14","k":"j","y":112},{"d":"2021-10-15","k":"j","y":90},{"d":"2021-10-16","k":"j","y":82},{"d":"2021-10-17","k":"j","y":80},{"d":"2021-10-18","k":"j","y":400},{"d":"2021-10-19","k":"j","y":118},{"d":"2021-10-20","k":"j","y":112},{"d":"2021-10-21","k":"j","y":106},{"d":"2021-10-22","k":"j","y":85},{"d":"2021-10-23","k":"j","y":80},{"d":"2021-10-24","k":"j","y":78},
{"d":"2021-09-07","k":"l","y":450},{"d":"2021-09-08","k":"l","y":230},{"d":"2021-09-09","k":"l","y":185},{"d":"2021-09-10","k":"l","y":140},{"d":"2021-09-11","k":"l","y":95},{"d":"2021-09-12","k":"l","y":50},{"d":"2021-09-13","k":"l","y":620},{"d":"2021-09-14","k":"l","y":220},{"d":"2021-09-15","k":"l","y":175},{"d":"2021-09-16","k":"l","y":130},{"d":"2021-09-17","k":"l","y":90},{"d":"2021-09-18","k":"l","y":50},{"d":"2021-09-19","k":"l","y":20},{"d":"2021-09-20","k":"l","y":560},{"d":"2021-09-21","k":"l","y":205},{"d":"2021-09-22","k":"l","y":165},{"d":"2021-09-23","k":"l","y":125},{"d":"2021-09-24","k":"l","y":85},{"d":"2021-09-25","k":"l","y":45},{"d":"2021-09-26","k":"l","y":15},{"d":"2021-09-27","k":"l","y":520},{"d":"2021-09-28","k":"l","y":195},{"d":"2021-09-29","k":"l","y":155},{"d":"2021-09-30","k":"l","y":115},{"d":"2021-10-01","k":"l","y":80},{"d":"2021-10-02","k":"l","y":40},{"d":"2021-10-03","k":"l","y":12},{"d":"2021-10-04","k":"l","y":480},{"d":"2021-10-05","k":"l","y":185},{"d":"2021-10-06","k":"l","y":145},{"d":"2021-10-07","k":"l","y":110},{"d":"2021-10-08","k":"l","y":75},{"d":"2021-10-09","k":"l","y":38},{"d":"2021-10-10","k":"l","y":10},{"d":"2021-10-11","k":"l","y":460},{"d":"2021-10-12","k":"l","y":175},{"d":"2021-10-13","k":"l","y":140},{"d":"2021-10-14","k":"l","y":105},{"d":"2021-10-15","k":"l","y":70},{"d":"2021-10-16","k":"l","y":35},{"d":"2021-10-17","k":"l","y":10},{"d":"2021-10-18","k":"l","y":440},{"d":"2021-10-19","k":"l","y":165},{"d":"2021-10-20","k":"l","y":130},{"d":"2021-10-21","k":"l","y":95},{"d":"2021-10-22","k":"l","y":65},{"d":"2021-10-23","k":"l","y":30},{"d":"2021-10-24","k":"l","y":10}
],
"ell":[{"d":"2019-12-24","y":1500}],
"shaft":[{"d":"2021-10-04","y":1449,"y2":1334}],
"head":[{"d":"2021-10-04","y":1303}]
},
"encoding":{
"x":{"field":"d","type":"temporal",
 "scale":{"type":"utc","nice":false,"domain":[{"year":2020,"month":2,"date":10,"utc":true},{"year":2021,"month":11,"date":21,"utc":true}]},
 "axis":{"values":[{"year":2020,"month":4,"date":1,"utc":true},{"year":2020,"month":7,"date":1,"utc":true},{"year":2020,"month":10,"date":1,"utc":true},{"year":2021,"month":1,"date":1,"utc":true},{"year":2021,"month":4,"date":1,"utc":true},{"year":2021,"month":7,"date":1,"utc":true},{"year":2021,"month":10,"date":1,"utc":true}],
  "labelExpr":"utcmonth(datum.value) % 6 === 0 ? utcFormat(datum.value, '%Y-%m') : ''",
  "title":"date","domain":false,"grid":true,"gridColor":"#EBEBEB",
  "gridWidth":{"condition":{"test":"utcmonth(datum.value) % 6 === 0","value":2},"value":1},
  "tickOpacity":{"condition":{"test":"utcmonth(datum.value) % 6 === 0","value":1},"value":0},
  "tickColor":"#333333","tickSize":8,"tickWidth":2,
  "labelFontSize":27.5,"labelColor":"#4D4D4D","labelPadding":6,"labelFlush":false,"labelOverlap":false,
  "titleFontSize":34.5,"titleFontWeight":"normal","titleColor":"#000000","titlePadding":5}},
"y":{"field":"y","type":"quantitative",
 "scale":{"domain":[-100,1597],"nice":false,"zero":false},
 "axis":{"values":[0,250,500,750,1000,1250,1500],
  "labelExpr":"datum.value % 500 === 0 ? '' + datum.value : ''",
  "title":"Daily Cases","domain":false,"grid":true,"gridColor":"#EBEBEB",
  "gridWidth":{"condition":{"test":"datum.value % 500 === 0","value":2},"value":1},
  "tickOpacity":{"condition":{"test":"datum.value % 500 === 0","value":1},"value":0},
  "tickColor":"#333333","tickSize":8,"tickWidth":2,
  "labelFontSize":27.5,"labelColor":"#4D4D4D","labelPadding":8,
  "titleFontSize":34.5,"titleFontWeight":"normal","titleColor":"#000000","titlePadding":14}}
},
"layer":[
{"data":{"name":"obs"},"mark":{"type":"circle","size":185,"color":"#000000","opacity":1}},
{"data":{"name":"fc"},"transform":[{"filter":"datum.k !== 'm'"}],"mark":{"type":"line","color":"#000000","strokeWidth":1.2,"opacity":0.2},"encoding":{"detail":{"field":"k"}}},
{"data":{"name":"fc"},"transform":[{"filter":"datum.k === 'm'"}],"mark":{"type":"line","color":"#000000","strokeWidth":3},"encoding":{}},
{"data":{"name":"ell"},"mark":{"type":"point","shape":"M-1,0C-1,-0.2596,-0.5523,-0.47,0,-0.47C0.5523,-0.47,1,-0.2596,1,0C1,0.2596,0.5523,0.47,0,0.47C-0.5523,0.47,-1,0.2596,-1,0Z","size":23716,"filled":false,"color":"#C00000","strokeWidth":5,"opacity":1,"clip":false}},
{"data":{"name":"shaft"},"mark":{"type":"rule","color":"#C00000","strokeWidth":7},"encoding":{"y2":{"field":"y2"}}},
{"data":{"name":"head"},"mark":{"type":"point","shape":"triangle-down","size":576,"filled":true,"color":"#C00000","opacity":1}}
]
}
